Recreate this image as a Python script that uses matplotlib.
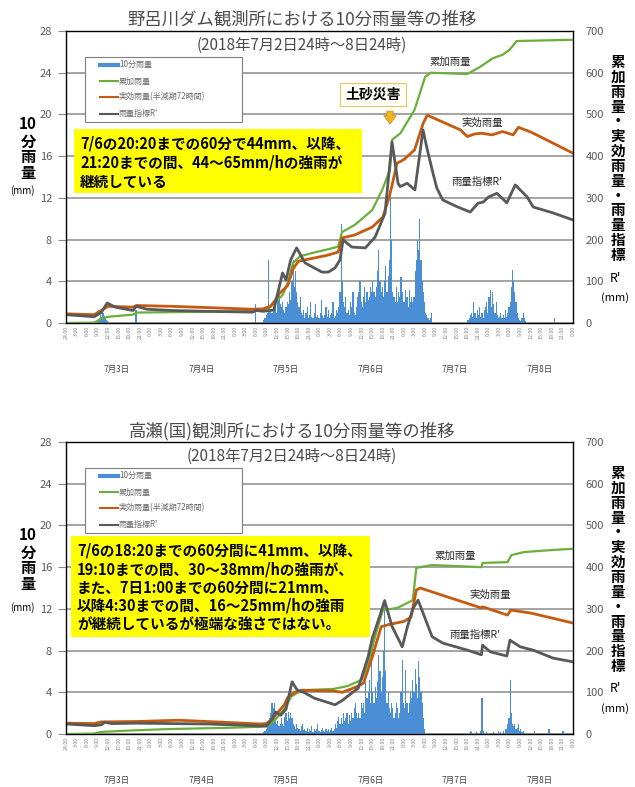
import numpy as np
import matplotlib
matplotlib.use("Agg")
import matplotlib.pyplot as plt
from matplotlib.patches import Rectangle
from matplotlib.lines import Line2D

plt.rcParams["font.family"] = ["Noto Sans CJK JP", "DejaVu Sans"]

W, H = 635, 787

c_rain = "#4A8FD6"
c_cum = "#6AAF3A"
c_eff = "#C55A11"
c_idx = "#595959"
c_tick = "#595959"

# hours counted from 7/2 24:00, 10-min rain read in 20-min steps
step = 1 / 3

# ---------------- 野呂川ダム ----------------
noro_rain_a_start = 9.0
noro_rain_a = [0.3, 0.5, 0.8, 0.6, 1.0, 0.7, 0.5, 0.3, 0.2]
noro_rain_single_t = [19.7, 53.7, 138.5]
noro_rain_single_v = [1.2, 1.8, 0.5]
noro_rain_b_start = 56.0
noro_rain_b = [
    0.3, 0.5, 0.8, 1.0, 6.0, 1.5, 1.2, 1.0, 1.5, 2.0, 1.5, 1.0,
    2.5, 2.9, 1.8, 1.5, 2.0, 1.2, 1.0, 1.5, 2.0, 1.8, 3.0, 2.2,
    4.0, 6.0, 3.5, 5.0, 3.0, 2.0, 1.5, 2.5, 1.0, 0.8, 1.2, 0.5,
    1.0, 1.5, 0.5, 0.8, 2.0, 0.6, 0.5, 1.0, 1.8, 0.6, 0.8, 0.5,
    1.0, 2.2, 0.7, 0.5, 0.8, 1.5, 0.6, 1.2, 0.5, 0.8, 1.0, 2.0,
    0.5, 0.7, 1.2, 1.0, 1.5, 3.0, 9.5, 4.0, 2.0, 1.5, 2.5, 1.0,
    1.2, 0.8, 2.0, 1.5, 3.0, 1.0, 0.8, 1.5, 2.5, 3.0, 4.0, 2.0,
    1.5, 2.5, 3.5, 2.0, 3.0, 2.2, 2.5, 3.5, 3.0, 4.0, 3.0, 2.5,
    3.5, 5.0, 7.0, 4.0, 3.0, 3.5, 2.5, 4.0, 5.5, 3.0, 4.5, 6.0,
    12.0, 8.0, 3.0, 2.5, 2.0, 3.5, 2.0, 3.0, 2.5, 4.4, 3.0, 2.0,
    2.0, 3.2, 2.5, 1.5, 3.2, 2.0, 2.5, 2.0, 2.5, 5.0, 6.0, 8.0,
    7.0, 10.0, 6.0, 4.0, 3.0, 2.0, 1.0, 0.8, 0.5, 0.3, 0.5, 1.0,
]
noro_rain_c_start = 114.0
noro_rain_c = [
    0.3, 0.5, 0.8, 1.0, 0.6, 2.0, 1.0, 0.5, 1.2, 0.8, 1.5, 0.6,
    1.0, 0.5, 1.2, 1.5, 2.0, 1.0, 2.5, 3.2, 1.5, 3.0, 1.8, 1.0,
    2.0, 0.8, 0.5, 0.6, 1.0, 0.5, 0.8, 0.5, 1.2, 0.6, 1.0, 1.5,
    2.0, 3.5, 5.1, 4.0, 3.0, 2.0, 1.0, 0.5, 0.3, 0.2, 0.5, 1.0,
    0.5, 0.2,
]

noro_cum_t = [0, 8, 10, 12, 19, 20, 40, 53, 54, 57, 58, 60, 61.5, 63, 64.5,
              66.5, 70, 74, 77.3, 78.4, 82, 87, 89.8, 92, 92.6, 95, 99,
              102, 103.6, 110, 114, 117.6, 121.3, 124, 126, 128, 144]
noro_cum = [0, 1, 10, 15, 20, 25, 27, 29, 31, 34, 38, 55, 67, 96, 144,
            160, 168, 176, 183, 218, 235, 271, 319, 367, 439, 455, 511,
            590, 600, 598, 597, 614, 635, 643, 655, 676, 679]

noro_eff_t = [0, 8, 10, 12, 19, 20, 30, 40, 53, 56, 58, 59.5, 60.5, 63,
              64.5, 66, 70, 74, 77.3, 78.4, 82, 87, 90, 91.8, 92.6, 94,
              96, 99, 101.5, 102.6, 104, 108, 112, 114, 116, 118, 121,
              124, 127, 128.5, 132, 144]
noro_eff = [22, 20, 30, 40, 38, 42, 40, 37, 33, 34, 40, 55, 70, 90,
            130, 148, 155, 162, 170, 204, 211, 230, 254, 302, 330, 383,
            392, 415, 480, 498, 493, 478, 463, 447, 453, 455, 451,
            459, 451, 469, 458, 407]

noro_idx_t = [0, 8, 10, 11.7, 14, 19, 20, 23, 30, 40, 53, 54, 56, 58, 59,
              61.5, 62.5, 63.8, 65.5, 67.9, 72.7, 74.5, 76.4, 77.8, 78.7,
              81.2, 85, 87.8, 90.6, 92.6, 94.3, 94.9, 96.9, 99.1, 101.4,
              102.5, 104, 105.3, 107, 111, 114.8, 117, 118.5, 120, 122.4,
              125.2, 127.6, 131, 132.7, 138.3, 144]
noro_idx = [20, 15, 25, 48, 38, 30, 40, 33, 30, 28, 26, 30, 28, 30, 31,
            120, 103, 151, 180, 144, 122, 122, 132, 151, 199,
            182, 180, 206, 263, 434, 335, 327, 335, 319, 463,
            420, 367, 324, 295, 279, 266, 287, 290, 302, 311,
            288, 331, 302, 278, 264, 247]

# ---------------- 高瀬(国) ----------------
taka_rain_b_start = 56.0
taka_rain_b = [
    0.2, 0.3, 0.5, 0.8, 1.0, 1.5, 2.0, 3.0, 2.5, 3.0, 1.5, 1.0,
    1.2, 0.8, 1.0, 1.5, 1.0, 0.8, 1.6, 2.0, 1.2, 2.1, 1.5, 2.0,
    1.5, 1.0, 0.8, 0.5, 1.0, 0.6, 0.5, 0.3, 0.8, 1.0, 0.4, 0.5,
    0.3, 0.6, 0.2, 0.5, 0.3, 0.8, 0.2, 0.5, 0.3, 0.5, 1.0, 0.3,
    0.2, 0.4, 0.6, 0.3, 0.2, 0.5, 0.3, 0.5, 0.2, 0.4, 0.6, 0.3,
    0.5, 1.0, 0.6, 1.2, 1.6, 1.0, 1.5, 1.0, 2.0, 1.2, 1.5, 2.0,
    1.0, 1.8, 1.2, 2.0, 1.5, 2.5, 3.0, 2.0, 1.5, 2.0, 1.5, 3.0,
    2.5, 3.0, 2.0, 5.0, 3.5, 4.0, 5.2, 3.0, 8.0, 4.0, 3.0, 4.5,
    3.5, 5.0, 7.6, 6.0, 4.0, 5.5, 8.0, 12.5, 6.0, 3.0, 4.0, 2.5,
    2.0, 3.0, 2.5, 1.5, 2.0, 3.0, 2.5, 1.5, 2.0, 4.0, 7.1, 3.0,
    2.5, 6.1, 3.0, 2.0, 3.0, 4.0, 3.5, 5.2, 4.0, 6.2, 4.8, 3.5,
    7.0, 5.5, 4.0, 3.0, 1.5, 0.5,
]
taka_rain_c_start = 114.0
taka_rain_c = [
    0, 0, 0.3, 0.2, 0, 0, 0, 0.2, 0, 0, 0, 0.3,
    3.5, 0.3, 0, 0, 0.2, 0, 0, 0, 0, 0, 0.2, 0,
    0, 0, 0.3, 0, 0.2, 0, 0.3, 0, 0.5, 0.5, 1.0, 1.5,
    5.2, 2.0, 1.0, 0.8, 1.0, 0.5, 0.6, 1.0, 0.3, 0.5, 0.2, 0.3,
]
taka_rain_single_t = [133.0, 137.0, 141.0]
taka_rain_single_v = [0.3, 0.5, 0.3]

taka_cum_t = [0, 8, 10, 20, 30, 47, 57, 59, 62, 64, 67, 76, 80, 84, 86,
              88, 90, 94, 96, 98.5, 99.5, 100.6, 104, 118, 118.3, 125.4,
              126.5, 130, 138, 144]
taka_cum = [0, 1, 5, 9, 12, 15, 18, 30, 60, 90, 105, 108, 115, 130, 175,
            240, 297, 302, 310, 321, 398, 400, 405, 400, 410, 412,
            429, 436, 441, 444]

taka_eff_t = [0, 8, 10, 20, 32, 45, 55, 57, 59, 62, 63, 65, 67, 76, 78.5,
              81, 83, 84.5, 87, 89.5, 91.5, 96, 98, 99.5, 100.6, 118,
              118.3, 125.4, 126.3, 132, 144]
taka_eff = [26, 25, 29, 30, 33, 28, 24, 25, 40, 70, 88, 100, 105, 103,
            100, 108, 115, 122, 185, 257, 262, 270, 280, 345, 350, 302,
            305, 285, 297, 290, 266]

taka_idx_t = [0, 8, 10, 11, 13, 20, 30, 40, 50, 55, 57, 58.5, 59.5, 61,
              62.5, 64.2, 65.7, 67.5, 70.5, 76.4, 78.4, 81, 83, 85.8, 87,
              89, 90.5, 92.6, 95.5, 97, 98.5, 100, 102.5, 104, 107, 114,
              118, 118.3, 120.5, 125.2, 126.1, 129, 132.7, 138.3, 144]
taka_idx = [24, 20, 22, 28, 25, 26, 25, 24, 21, 19, 20, 35, 53, 45,
            60, 125, 105, 100, 86, 70, 80, 97, 110, 185, 230,
            280, 320, 258, 209, 258, 300, 321, 266, 233, 218, 201,
            190, 213, 197, 187, 225, 209, 201, 182, 173]

day_labels = ["7月3日", "7月4日", "7月5日", "7月6日", "7月7日", "7月8日"]
legend_labels = ["10分雨量", "累加雨量", "実効雨量(半減期72時間)", "雨量指標R'"]

noro_title = "野呂川ダム観測所における10分雨量等の推移"
taka_title = "高瀬(国)観測所における10分雨量等の推移"
subtitle = "(2018年7月2日24時～8日24時)"
noro_note = ["7/6の20:20までの60分で44mm、以降、",
             "21:20までの間、44～65mm/hの強雨が",
             "継続している"]
taka_note = ["7/6の18:20までの60分間に41mm、以降、",
             "19:10までの間、30～38mm/hの強雨が、",
             "また、7日1:00までの60分間に21mm、",
             "以降4:30までの間、16～25mm/hの強雨",
             "が継続しているが極端な強さではない。"]


def fx(x):
    return x / W


def fy(y):
    return 1 - y / H


def seg_times(start, vals):
    return start + step * np.arange(len(vals))


def draw_panel(fig, top, segments, singles, cum, eff, idx, title, title_x,
               note, note_box, note_y0, note_dy, curve_lbl, mm_dy=160):
    ax = fig.add_axes([fx(66), fy(top + 292), 507 / W, 292 / H])
    for start, vals in segments:
        ax.bar(seg_times(start, vals), vals, width=step, align="edge",
               color=c_rain, lw=0)
    ax.bar(singles[0], singles[1], width=step, align="edge", color=c_rain, lw=0)
    ax.set_xlim(0, 144)
    ax.set_ylim(0, 28)
    ax.set_yticks(range(0, 29, 4))
    ax.yaxis.grid(True, color="#8c8c8c", lw=1.1)
    ax.set_axisbelow(True)
    hours = np.arange(0, 145, 3)
    ax.set_xticks(hours)
    ax.set_xticklabels(["24:00" if h == 0 else f"{h % 24}:00" for h in hours])
    ax.tick_params(axis="x", length=0, labelsize=3.8, labelcolor="#858585",
                   rotation=90, pad=2)
    ax.tick_params(axis="y", length=6, color="#8c8c8c", labelsize=8,
                   labelcolor=c_tick, pad=4)
    for s in ax.spines.values():
        s.set_color("#404040")
        s.set_linewidth(1)

    ax2 = ax.twinx()
    ax2.set_ylim(0, 700)
    ax2.set_yticks(range(0, 701, 100))
    ax2.tick_params(axis="y", length=0, labelsize=8, labelcolor=c_tick, pad=9)
    ax2.plot(cum[0], cum[1], color=c_cum, lw=1.6)
    ax2.plot(eff[0], eff[1], color=c_eff, lw=2.0)
    ax2.plot(idx[0], idx[1], color=c_idx, lw=2.0)

    for i, d in enumerate(day_labels):
        ax.text(i * 24 + 14.5, -0.16, d, transform=ax.get_xaxis_transform(),
                ha="center", va="center", fontsize=6, color="#404040")

    # legend box
    tr = ax2.transAxes
    ax2.add_patch(Rectangle((0.0375, 0.688), 0.3095, 0.223, transform=tr,
                            fc="white", ec="#7f7f7f", lw=0.8, zorder=5))
    for lbl, col, lw, yy in zip(legend_labels, [c_rain, c_cum, c_eff, c_idx],
                                [3, 1.5, 1.5, 1.5],
                                [0.884, 0.829, 0.774, 0.716]):
        ax2.add_line(Line2D([0.067, 0.1026], [yy, yy], transform=tr,
                            color=col, lw=lw, zorder=6))
        ax2.text(0.1045, yy, lbl, transform=tr, fontsize=5.8, color="#6a6a6a",
                 va="center", ha="left", zorder=6)

    # yellow note
    x0, y0, x1, y1 = note_box
    ax2.add_patch(Rectangle((x0, y0), x1 - x0, y1 - y0, transform=tr,
                            fc="#FFFF00", ec="none", zorder=7))
    for i, line in enumerate(note):
        ax2.text(x0 + 0.012, note_y0 - i * note_dy, line, transform=tr,
                 fontsize=10.5, fontweight="bold", color="black",
                 va="center", ha="left", zorder=8)

    for txt, (px, py) in zip(["累加雨量", "実効雨量", "雨量指標R'"], curve_lbl):
        ax2.text(px, py, txt, transform=tr, fontsize=7.5, color="#262626",
                 ha="center", va="center", zorder=8)

    fig.text(fx(title_x), fy(top - 11), title, fontsize=12.5, color="#4a4a4a",
             ha="center", va="center")
    fig.text(fx(title_x), fy(top + 14), subtitle, fontsize=11,
             color="#4a4a4a", ha="center", va="center")

    # left axis label
    for txt, py in zip(["10", "分", "雨", "量"], [93, 111, 126, 142]):
        fig.text(fx(28), fy(top + py), txt, fontsize=11, fontweight="bold",
                 ha="center", va="center")
    fig.text(fx(22), fy(top + mm_dy), "(mm)", fontsize=7, ha="center",
             va="center")
    # right axis label
    for i, ch in enumerate("累加雨量・実効雨量・雨量指標"):
        fig.text(fx(618), fy(top + 31 + i * 14.85), ch, fontsize=10.5,
                 fontweight="bold", ha="center", va="center")
    fig.text(fx(615), fy(top + 247), "R'", fontsize=9, ha="center",
             va="center")
    fig.text(fx(615), fy(top + 267), "(mm)", fontsize=8, ha="center",
             va="center")
    return ax, ax2


fig = plt.figure(figsize=(W / 100, H / 100), dpi=100)

ax_a, ax_a2 = draw_panel(
    fig, 31,
    [(noro_rain_a_start, noro_rain_a), (noro_rain_b_start, noro_rain_b),
     (noro_rain_c_start, noro_rain_c)],
    (noro_rain_single_t, noro_rain_single_v),
    (noro_cum_t, noro_cum), (noro_eff_t, noro_eff), (noro_idx_t, noro_idx),
    noro_title, 302, noro_note, (0.0158, 0.445, 0.584, 0.664), 0.616, 0.0668,
    [(0.757, 0.894), (0.820, 0.685), (0.811, 0.483)])

# disaster marker
ax_a2.text(0.6055, 0.7825, "土砂災害", transform=ax_a2.transAxes, fontsize=10,
           fontweight="bold", ha="center", va="center", zorder=9,
           bbox=dict(boxstyle="square,pad=0.35", fc="#FFFFF5", ec="#E8C468",
                     lw=0.8))
ax_a2.annotate("", xy=(0.639, 0.672), xytext=(0.639, 0.735),
               xycoords="axes fraction", textcoords="axes fraction",
               arrowprops=dict(arrowstyle="simple,head_width=0.9,head_length=0.6,tail_width=0.45",
                               fc="#F0B323", ec="#C98A00", lw=0.5), zorder=9)

draw_panel(
    fig, 442,
    [(taka_rain_b_start, taka_rain_b), (taka_rain_c_start, taka_rain_c)],
    (taka_rain_single_t, taka_rain_single_v),
    (taka_cum_t, taka_cum), (taka_eff_t, taka_eff), (taka_idx_t, taka_idx),
    taka_title, 292, taka_note, (0.0099, 0.332, 0.5996, 0.678), 0.627, 0.0627,
    [(0.767, 0.610), (0.836, 0.476), (0.807, 0.339)], mm_dy=166)

fig.savefig("out.png", dpi=100)
